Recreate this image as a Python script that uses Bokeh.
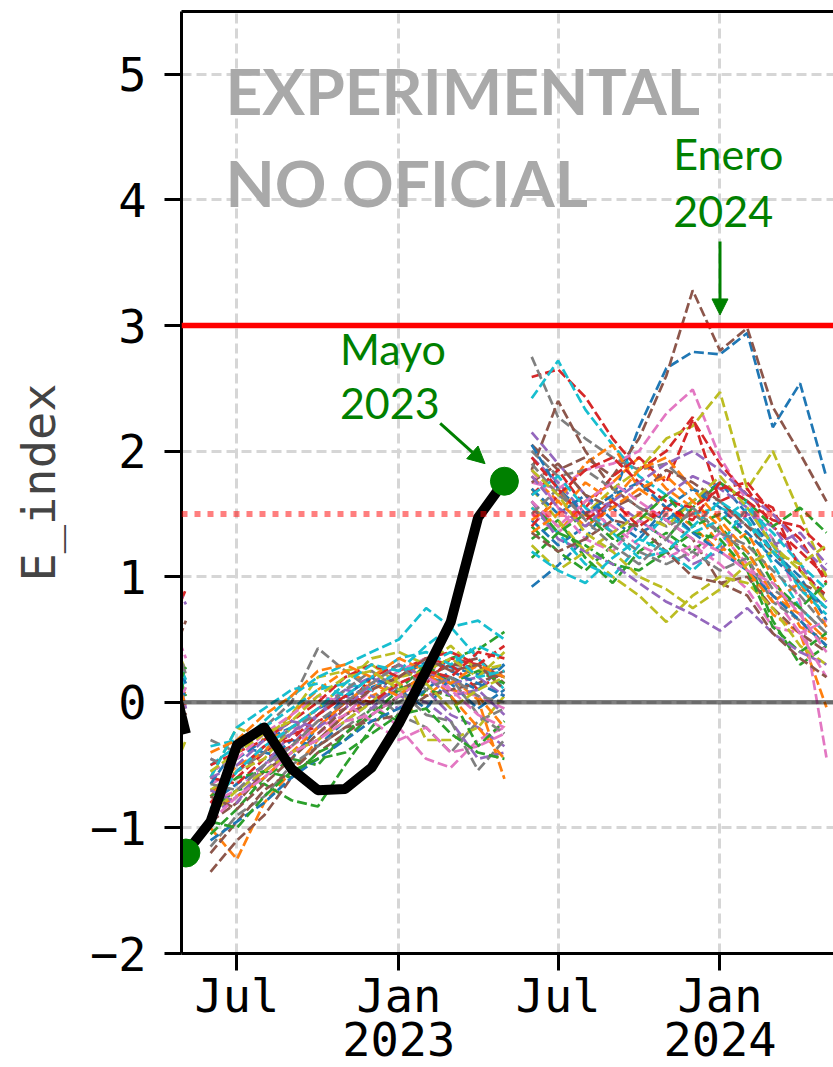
import pandas as pd
from bokeh.plotting import figure
from bokeh.models import Range1d, FixedTicker, Span, Label, Arrow, NormalHead, LinearAxis
from bokeh.embed import file_html
from bokeh.resources import INLINE

# ---------------- data ----------------
tab10 = ["#1f77b4", "#ff7f0e", "#2ca02c", "#d62728", "#9467bd",
         "#8c564b", "#e377c2", "#7f7f7f", "#bcbd22", "#17becf"]

# previous forecast ensemble (only its last months are visible at the left edge)
prev_months = ["2022-04-04", "2022-05-04"]
prev_ens = [
    [0.40, 0.90], [1.20, 0.78], [0.10, 0.65], [0.90, 0.35], [-0.20, 0.30],
    [0.75, 0.25], [-0.30, 0.20], [0.60, 0.15], [-0.40, 0.10], [0.70, 0.05],
    [-0.50, 0.00], [0.85, -0.05], [0.55, -0.10], [-0.35, 0.12], [0.95, 0.22],
    [-0.80, -0.30], [0.65, 0.18], [-0.15, 0.08], [0.50, -0.02], [-0.25, 0.28],
]
prev_obs = [0.60, -0.25]

# observed E index
obs_months = ["2022-05-04", "2022-06-01", "2022-07-01", "2022-08-01", "2022-09-01",
              "2022-10-01", "2022-11-01", "2022-12-01", "2023-01-01", "2023-02-01",
              "2023-03-01", "2023-04-01", "2023-05-01"]
obs_values = [-1.20, -0.95, -0.34, -0.20, -0.53, -0.70, -0.69, -0.52, -0.17,
              0.25, 0.64, 1.47, 1.76]

# ensemble forecast Jun 2022 - May 2023
ens22_months = ["2022-06-01", "2022-07-01", "2022-08-01", "2022-09-01", "2022-10-01",
                "2022-11-01", "2022-12-01", "2023-01-01", "2023-02-01", "2023-03-01",
                "2023-04-01", "2023-05-01"]
ens22 = [
    [-0.55, -0.45, -0.30, -0.20, -0.05, 0.05, 0.12, 0.20, 0.32, 0.28, 0.22, 0.30],
    [-1.00, -1.25, -0.80, -0.55, -0.30, -0.10, 0.05, 0.15, 0.05, 0.20, 0.02, -0.61],
    [-0.85, -0.70, -0.65, -0.78, -0.83, -0.50, -0.20, 0.05, 0.25, 0.35, 0.42, 0.56],
    [-0.70, -0.60, -0.40, -0.25, -0.20, 0.00, 0.10, 0.25, 0.35, 0.30, 0.10, 0.25],
    [-0.90, -0.75, -0.55, -0.35, -0.10, 0.10, 0.05, -0.05, 0.10, -0.10, -0.20, -0.35],
    [-1.35, -1.10, -0.90, -0.60, -0.40, -0.25, -0.10, 0.05, 0.20, 0.30, 0.28, 0.20],
    [-0.65, -0.55, -0.35, -0.20, -0.25, -0.10, 0.00, -0.20, -0.45, -0.52, -0.30, -0.20],
    [-0.30, -0.40, -0.20, 0.00, 0.43, 0.25, 0.10, -0.10, -0.20, -0.40, -0.15, -0.05],
    [-0.60, -0.20, -0.30, -0.10, 0.20, 0.25, 0.30, 0.15, -0.30, -0.30, -0.20, 0.05],
    [-0.50, -0.35, -0.15, 0.05, 0.20, 0.30, 0.40, 0.50, 0.75, 0.60, 0.65, 0.50],
    [-0.80, -0.65, -0.50, -0.30, -0.35, -0.15, 0.00, 0.10, 0.20, 0.15, -0.05, 0.10],
    [-0.75, -0.50, -0.40, -0.10, 0.10, 0.25, 0.15, 0.20, 0.30, 0.10, 0.05, -0.20],
    [-1.05, -0.85, -0.60, -0.45, -0.50, -0.25, -0.05, -0.15, 0.10, 0.05, -0.35, -0.15],
    [-0.60, -0.65, -0.45, -0.35, -0.15, -0.05, 0.20, 0.30, 0.15, 0.35, 0.30, 0.20],
    [-0.45, -0.55, -0.35, -0.25, -0.05, 0.10, 0.20, 0.05, 0.00, -0.15, -0.45, -0.40],
    [-0.95, -0.80, -0.55, -0.40, -0.30, -0.10, 0.00, 0.10, 0.20, 0.30, 0.35, 0.15],
    [-0.80, -0.70, -0.50, -0.35, -0.20, -0.10, 0.10, 0.25, 0.35, 0.10, 0.05, -0.05],
    [-1.15, -0.90, -0.75, -0.50, -0.35, -0.20, -0.05, 0.00, 0.15, 0.20, -0.10, -0.25],
    [-0.70, -0.55, -0.45, -0.20, -0.05, 0.15, 0.35, 0.40, 0.30, 0.45, 0.25, 0.30],
    [-0.35, -0.30, -0.20, -0.05, 0.10, 0.15, 0.10, 0.25, 0.45, 0.60, 0.35, 0.10],
    [-0.65, -0.35, -0.40, -0.45, -0.20, 0.05, 0.20, 0.10, -0.05, 0.20, 0.10, 0.30],
    [-0.85, -0.75, -0.60, -0.40, -0.20, 0.00, 0.15, 0.05, 0.25, 0.05, -0.20, -0.45],
    [-0.75, -0.60, -0.55, -0.60, -0.40, -0.30, -0.10, 0.10, 0.30, 0.15, 0.25, 0.15],
    [-0.50, -0.40, -0.30, -0.15, 0.00, 0.20, 0.30, 0.20, 0.35, 0.40, 0.30, 0.45],
    [-0.70, -0.80, -0.50, -0.25, -0.10, 0.05, -0.05, 0.15, 0.25, 0.15, 0.20, 0.05],
    [-1.20, -0.95, -0.70, -0.55, -0.35, -0.20, -0.15, -0.10, 0.05, 0.10, 0.15, 0.25],
    [-0.55, -0.45, -0.25, -0.10, 0.05, 0.00, -0.15, -0.30, -0.20, -0.40, -0.35, -0.25],
    [-0.45, -0.55, -0.40, -0.20, -0.10, 0.10, 0.25, 0.10, -0.10, -0.15, -0.54, -0.30],
    [-0.90, -0.70, -0.55, -0.40, -0.30, -0.15, 0.00, 0.20, 0.25, 0.35, 0.20, 0.40],
    [-0.60, -0.20, -0.05, 0.10, 0.15, 0.05, 0.20, 0.35, 0.40, 0.30, 0.45, 0.35],
    [-1.10, -0.95, -0.80, -0.60, -0.45, -0.30, -0.15, -0.05, 0.10, 0.25, 0.15, 0.05],
    [-0.40, -0.30, -0.10, 0.05, 0.25, 0.30, 0.20, 0.35, 0.25, 0.15, 0.30, 0.20],
    [-0.95, -1.00, -0.75, -0.55, -0.45, -0.40, -0.25, -0.10, -0.05, -0.25, -0.40, -0.45],
    [-0.80, -0.55, -0.35, -0.30, -0.10, 0.05, 0.00, 0.15, 0.25, 0.20, 0.40, 0.35],
    [-0.60, -0.50, -0.30, -0.15, -0.20, -0.05, 0.15, 0.30, 0.20, 0.05, 0.10, -0.10],
    [-0.75, -0.85, -0.65, -0.45, -0.25, -0.05, 0.10, 0.20, 0.35, 0.25, 0.30, 0.10],
    [-0.95, -0.75, -0.60, -0.40, -0.30, -0.15, -0.10, 0.05, 0.20, 0.10, -0.10, -0.20],
    [-0.65, -0.70, -0.50, -0.35, -0.15, 0.00, 0.15, 0.30, 0.10, 0.20, 0.05, 0.00],
    [-0.55, -0.40, -0.25, -0.15, 0.05, 0.20, 0.25, 0.10, 0.15, -0.05, 0.10, 0.20],
    [-0.85, -0.55, -0.35, -0.20, -0.05, 0.15, 0.30, 0.25, 0.30, 0.40, 0.20, 0.25],
]

# ensemble forecast Jun 2023 - May 2024
ens23_months = ["2023-06-01", "2023-07-01", "2023-08-01", "2023-09-01", "2023-10-01",
                "2023-11-01", "2023-12-01", "2024-01-01", "2024-02-01", "2024-03-01",
                "2024-04-01", "2024-05-01"]
ens23 = [
    [0.92, 1.09, 1.30, 1.62, 2.19, 2.66, 2.79, 2.77, 2.94, 2.19, 2.54, 1.79],
    [1.55, 1.35, 1.60, 1.75, 1.95, 1.70, 1.55, 1.25, 1.05, 0.70, 0.55, -0.04],
    [1.30, 1.45, 1.15, 0.95, 1.20, 1.35, 1.20, 1.40, 1.15, 0.65, 0.30, 0.45],
    [2.59, 2.65, 2.43, 2.10, 1.85, 2.00, 2.27, 1.60, 1.70, 1.40, 1.20, 1.00],
    [1.95, 1.75, 1.50, 1.60, 1.45, 1.30, 1.10, 1.20, 1.50, 1.40, 1.10, 0.80],
    [2.05, 1.85, 1.95, 1.80, 2.10, 2.60, 3.28, 2.80, 2.98, 2.35, 1.98, 1.60],
    [1.75, 1.70, 1.85, 1.90, 2.00, 2.30, 2.49, 1.95, 1.60, 1.30, 0.80, -0.44],
    [2.75, 2.27, 2.10, 1.95, 1.85, 1.90, 1.70, 1.60, 1.40, 1.30, 0.90, 0.75],
    [1.55, 1.40, 1.50, 1.70, 1.85, 2.10, 2.20, 2.47, 1.70, 2.00, 1.50, 1.00],
    [2.42, 2.72, 2.33, 2.05, 1.80, 1.65, 1.50, 1.55, 1.45, 1.10, 0.75, 0.55],
    [1.45, 1.25, 1.40, 1.55, 1.35, 1.45, 1.60, 1.75, 1.50, 1.20, 1.00, 0.65],
    [1.80, 1.60, 1.90, 2.05, 1.70, 1.55, 1.40, 1.20, 1.35, 1.00, 0.60, 0.50],
    [1.40, 1.20, 1.05, 1.25, 1.45, 1.30, 1.55, 1.75, 1.60, 1.40, 1.55, 1.35],
    [1.65, 1.85, 1.55, 1.80, 1.95, 1.75, 2.25, 1.90, 1.65, 1.55, 1.05, 0.85],
    [2.15, 1.90, 1.65, 1.35, 1.50, 1.65, 1.80, 1.70, 1.55, 1.25, 1.35, 1.10],
    [1.85, 2.40, 2.00, 1.70, 1.55, 1.45, 1.30, 0.95, 1.00, 0.75, 0.55, 0.40],
    [1.50, 1.35, 1.55, 1.40, 1.25, 1.15, 1.25, 1.10, 0.90, 0.60, 0.55, 0.65],
    [2.00, 1.80, 1.85, 1.70, 1.55, 1.40, 1.50, 1.35, 1.20, 0.90, 0.75, 0.55],
    [1.70, 1.45, 1.20, 1.00, 0.85, 0.64, 0.85, 1.00, 0.95, 0.75, 0.45, 0.30],
    [1.55, 1.35, 1.10, 1.00, 1.25, 1.50, 1.35, 1.45, 1.60, 1.25, 0.90, 0.70],
    [1.70, 1.50, 1.65, 1.45, 1.30, 1.55, 1.70, 1.55, 1.35, 1.15, 0.95, 0.75],
    [1.35, 1.50, 1.75, 1.60, 1.85, 1.95, 1.70, 1.45, 1.20, 0.85, 0.70, 0.50],
    [1.60, 1.35, 1.25, 1.10, 1.05, 1.20, 1.35, 1.30, 1.05, 0.60, 0.40, 0.55],
    [1.40, 1.65, 1.85, 1.95, 1.75, 1.60, 1.55, 1.70, 1.75, 1.50, 1.30, 0.95],
    [1.60, 1.30, 1.20, 1.10, 0.95, 0.80, 0.70, 0.57, 0.75, 0.55, 0.40, 0.30],
    [1.75, 1.90, 1.65, 1.55, 1.65, 1.85, 1.75, 1.60, 1.40, 1.20, 0.95, 0.85],
    [1.85, 1.55, 1.30, 1.20, 1.45, 1.30, 1.15, 1.35, 1.10, 0.85, 0.55, 0.20],
    [1.90, 1.65, 1.50, 1.35, 1.20, 1.10, 1.20, 1.05, 1.15, 0.80, 0.65, 0.45],
    [1.25, 1.05, 1.20, 1.35, 1.50, 1.40, 1.60, 1.80, 1.55, 1.25, 1.05, 0.80],
    [1.65, 1.80, 1.55, 1.35, 1.15, 1.20, 1.05, 1.25, 1.55, 1.35, 1.10, 0.90],
    [2.05, 1.70, 1.50, 1.65, 1.75, 1.55, 1.35, 1.20, 1.05, 0.85, 0.65, 0.45],
    [1.45, 1.60, 1.40, 1.55, 1.70, 1.80, 1.60, 1.40, 1.05, 0.80, 0.95, 0.60],
    [1.15, 1.35, 1.50, 1.30, 1.45, 1.65, 1.40, 1.50, 1.30, 0.95, 0.75, 0.95],
    [1.95, 1.70, 1.45, 1.60, 1.40, 1.55, 1.45, 1.75, 1.60, 1.45, 1.40, 1.20],
    [1.80, 1.55, 1.40, 1.60, 1.75, 1.90, 2.00, 1.85, 1.65, 1.50, 1.25, 1.05],
    [1.35, 1.20, 1.30, 1.45, 1.40, 1.20, 1.00, 0.95, 0.85, 0.55, 0.35, 0.20],
    [1.60, 1.40, 1.60, 1.75, 1.60, 1.45, 1.30, 1.20, 1.05, 0.95, 0.70, 0.40],
    [1.50, 1.70, 1.45, 1.25, 1.10, 1.30, 1.55, 1.35, 1.25, 1.05, 0.85, 0.60],
    [1.85, 1.65, 1.35, 1.20, 1.00, 0.90, 0.75, 0.90, 1.10, 1.20, 1.10, 1.25],
    [1.20, 1.05, 0.95, 1.15, 1.30, 1.20, 1.40, 1.60, 1.45, 1.20, 0.95, 0.75],
]

# reference levels
level_strong = 3.0
level_moderate = 1.5
level_zero = 0.0

# axes ticks and labels
x_tick_dates = ["2022-07-01", "2023-01-01", "2023-07-01", "2024-01-01"]
x_tick_labels = ["Jul", "Jan\n2023", "Jul", "Jan\n2024"]
y_ticks = [-2, -1, 0, 1, 2, 3, 4, 5]
y_tick_labels = ["\u22122", "\u22121", "0", "1", "2", "3", "4", "5"]

# annotation texts
watermark = ["EXPERIMENTAL", "NO OFICIAL"]
ann_may = ["Mayo", "2023"]
ann_jan = ["Enero", "2024"]


def ms(s):
    return pd.Timestamp(s).value / 1e6


def ms_list(lst):
    return [ms(s) for s in lst]


# ---------------- figure ----------------
p = figure(frame_width=652, frame_height=942, x_axis_type="datetime",
           output_backend="svg", toolbar_location=None,
           x_range=Range1d(ms("2022-04-29"), ms("2024-05-09")),
           y_range=Range1d(-2, 5.5),
           min_border_left=181, min_border_right=0,
           min_border_top=11, min_border_bottom=0)
p.outline_line_color = None
p.background_fill_color = "white"
p.border_fill_color = "white"

mono = "DejaVu Sans Mono"
FS = "47px"

# x axis
p.xaxis.ticker = FixedTicker(ticks=ms_list(x_tick_dates))
p.xaxis.major_label_overrides = {ms(d): l for d, l in zip(x_tick_dates, x_tick_labels)}
p.xaxis.minor_tick_line_color = None
p.xaxis.major_tick_out = 17
p.xaxis.major_tick_in = 0
p.xaxis.major_tick_line_width = 3
p.xaxis.axis_line_width = 3
p.xaxis.major_label_text_font = mono
p.xaxis.major_label_text_font_size = FS
p.xaxis.major_label_text_line_height = 0.81
p.xaxis.major_label_standoff = -3
p.xaxis.major_label_text_color = "black"

# y axis
p.yaxis.ticker = FixedTicker(ticks=y_ticks)
p.yaxis.major_label_overrides = {t: l for t, l in zip(y_ticks, y_tick_labels)}
p.yaxis.minor_tick_line_color = None
p.yaxis.major_tick_out = 17
p.yaxis.major_tick_in = 0
p.yaxis.major_tick_line_width = 3
p.yaxis.axis_line_width = 3
p.yaxis.major_label_text_font = mono
p.yaxis.major_label_text_font_size = FS
p.yaxis.major_label_standoff = 18
p.yaxis.major_label_text_color = "black"
p.yaxis.axis_label = "E_index"
p.yaxis.axis_label_text_font = mono
p.yaxis.axis_label_text_font_size = FS
p.yaxis.axis_label_text_font_style = "normal"
p.yaxis.axis_label_standoff = 21

# top spine
top = LinearAxis(axis_line_width=3, ticker=FixedTicker(ticks=[]),
                 major_tick_line_color=None, minor_tick_line_color=None,
                 major_label_text_font_size="0px", major_tick_out=0,
                 major_label_standoff=0)
p.add_layout(top, "above")

# grid
for g in (p.xgrid, p.ygrid):
    g.grid_line_color = "#d6d6d6"
    g.grid_line_width = 3
    g.grid_line_dash = "10 5"

# previous ensemble (edge)
px = ms_list(prev_months)
p.multi_line([px] * len(prev_ens), prev_ens,
             line_color=[tab10[(i + 3) % 10] for i in range(len(prev_ens))],
             line_width=2.7, line_dash="10 4")
p.line(px, prev_obs, line_color="black", line_width=10, line_join="round")

# ensembles
x22 = ms_list(ens22_months)
p.multi_line([x22] * len(ens22), ens22,
             line_color=[tab10[i % 10] for i in range(len(ens22))],
             line_width=2.7, line_dash="10 4")
x23 = ms_list(ens23_months)
p.multi_line([x23] * len(ens23), ens23,
             line_color=[tab10[i % 10] for i in range(len(ens23))],
             line_width=2.7, line_dash="10 4")

# observed
xo = ms_list(obs_months)
p.line(xo, obs_values, line_color="black", line_width=10, line_join="round")
p.scatter([xo[0], xo[-1]], [obs_values[0], obs_values[-1]], size=28,
          fill_color="green", line_color="green")

# reference lines
p.add_layout(Span(location=level_zero, dimension="width", line_color="black",
                  line_alpha=0.5, line_width=4.5))
p.add_layout(Span(location=level_moderate, dimension="width", line_color="red",
                  line_alpha=0.5, line_width=6, line_dash="6 7"))
p.add_layout(Span(location=level_strong, dimension="width", line_color="red",
                  line_width=5.5))

# watermark
p.add_layout(Label(x=ms("2022-06-18"), y=4.872, text=watermark[0],
                   text_font="Lato", text_font_style="bold", text_font_size="64px",
                   text_color="#a9a9a9", text_align="left", text_baseline="alphabetic"))
p.add_layout(Label(x=ms("2022-06-18"), y=4.142, text=watermark[1],
                   text_font="Lato", text_font_style="bold", text_font_size="64px",
                   text_color="#a9a9a9", text_align="left", text_baseline="alphabetic"))

# annotations
for txt, yy in zip(ann_may, [2.815, 2.377]):
    p.add_layout(Label(x=ms("2022-10-26"), y=yy, text=txt, text_font="Lato",
                       text_font_size="43px", text_color="green",
                       text_align="left", text_baseline="alphabetic"))
for txt, yy in zip(ann_jan, [4.369, 3.905]):
    p.add_layout(Label(x=ms("2023-11-09"), y=yy, text=txt, text_font="Lato",
                       text_font_size="43px", text_color="green",
                       text_align="left", text_baseline="alphabetic"))

p.add_layout(Arrow(x_start=ms("2023-02-17"), y_start=2.22,
                   x_end=ms("2023-04-09"), y_end=1.90,
                   line_color="green", line_width=3,
                   end=NormalHead(size=17, fill_color="green", line_color="green")))
p.add_layout(Arrow(x_start=ms("2024-01-01"), y_start=3.668,
                   x_end=ms("2024-01-01"), y_end=3.084,
                   line_color="green", line_width=3,
                   end=NormalHead(size=16, fill_color="green", line_color="green")))

open("out.html", "w").write(file_html(p, INLINE))
